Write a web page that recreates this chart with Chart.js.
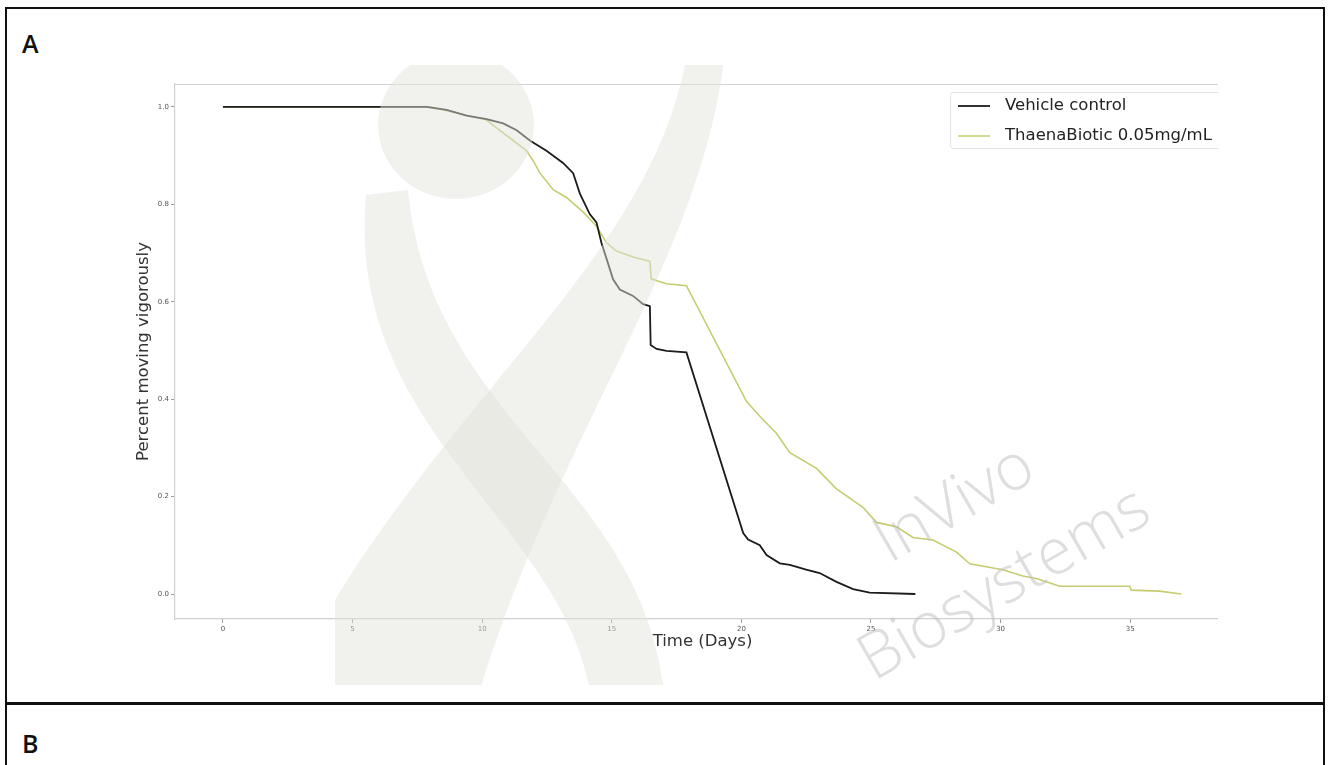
<!DOCTYPE html>
<html>
<head>
<meta charset="utf-8">
<title>Vigorous movement over time</title>
<script src="https://cdn.jsdelivr.net/npm/chart.js@4.4.1/dist/chart.umd.min.js"></script>
<style>
  html, body { margin: 0; padding: 0; background: #fff; }
  body { width: 1329px; height: 765px; position: relative; overflow: hidden; font-family: "Open Sans", sans-serif; }
  .frame { position: absolute; left: 5px; top: 7px; width: 1316px; height: 820px; border: 2px solid #111; }
  .divider { position: absolute; left: 5px; top: 702px; width: 1320px; height: 3px; background: #111; }
  .panel-label { position: absolute; left: 22px; font-size: 25px; font-weight: 600; color: #111; line-height: 1; }
  #plotBox { position: absolute; left: 100px; top: 60px; width: 1118px; height: 625px; overflow: hidden; }
</style>
</head>
<body>
<div class="frame"></div>
<div class="divider"></div>
<div class="panel-label" style="top:31px">A</div>
<div class="panel-label" style="top:731px">B</div>
<div id="plotBox"><canvas id="survivalChart" width="1150" height="625"></canvas></div>

<script>
// fraction of worms still moving vigorously, per day
const vehicleDays   = [0, 7.85, 8.63, 9.40, 10.17, 10.81, 11.33, 11.84, 12.48, 13.12, 13.51, 13.77, 14.15, 14.41, 14.60, 14.80, 15.05, 15.31, 15.82, 16.21, 16.47, 16.50, 16.73, 17.11, 17.88, 20.07, 20.26, 20.71, 20.97, 21.48, 21.87, 22.50, 23.02, 23.67, 24.31, 24.95, 26.71];
const vehicleValues = [1.0, 1.0, 0.994, 0.982, 0.975, 0.966, 0.952, 0.931, 0.910, 0.885, 0.864, 0.822, 0.780, 0.763, 0.721, 0.688, 0.646, 0.625, 0.612, 0.595, 0.591, 0.511, 0.503, 0.499, 0.496, 0.125, 0.112, 0.100, 0.080, 0.063, 0.060, 0.050, 0.043, 0.025, 0.010, 0.003, 0.0];

const thaenaDays   = [0, 8.0, 9.40, 10.17, 10.68, 11.20, 11.71, 11.97, 12.23, 12.74, 13.25, 13.90, 14.41, 14.80, 15.18, 15.82, 16.47, 16.52, 17.11, 17.88, 20.20, 20.71, 21.35, 21.87, 22.90, 23.67, 24.69, 25.21, 25.98, 26.62, 27.39, 28.30, 28.81, 30.09, 30.86, 31.38, 32.28, 34.98, 35.04, 36.13, 36.97];
const thaenaValues = [1.0, 1.0, 0.983, 0.973, 0.952, 0.931, 0.910, 0.889, 0.864, 0.830, 0.814, 0.784, 0.755, 0.721, 0.704, 0.692, 0.683, 0.647, 0.637, 0.633, 0.395, 0.365, 0.330, 0.290, 0.258, 0.216, 0.178, 0.147, 0.138, 0.116, 0.111, 0.086, 0.062, 0.050, 0.037, 0.032, 0.016, 0.016, 0.008, 0.006, 0.0];

const seriesLabels = ['Vehicle control', 'ThaenaBiotic 0.05mg/mL'];
const seriesColors = ['#1b1b1b', '#c6cc70'];
const xTicks = [0, 5, 10, 15, 20, 25, 30, 35];
const yTicks = [0.0, 0.2, 0.4, 0.6, 0.8, 1.0];

const toPoints = (xs, ys) => xs.map((x, i) => ({ x: x, y: ys[i] }));

// canvas sits at page offset 100,60 -> logo drawn in page space
const OX = 100, OY = 60;

const watermarkPlugin = {
    id: 'watermark',
    afterDatasetsDraw(chart) {
        const ctx = chart.ctx;
        ctx.save();
        ctx.beginPath();
        ctx.rect(0, 65 - OY, chart.width, 620);
        ctx.clip();
        ctx.translate(-OX, -OY);
        ctx.fillStyle = 'rgba(226, 226, 220, 0.48)';

        // head
        ctx.beginPath();
        ctx.ellipse(456, 125, 78, 74, 0, 0, Math.PI * 2);
        ctx.fill();

        // ribbon from upper right down to lower left
        ctx.beginPath();
        ctx.moveTo(686, 60);
        ctx.bezierCurveTo(650, 250, 470, 380, 335, 600);
        ctx.lineTo(335, 690);
        ctx.lineTo(480, 690);
        ctx.bezierCurveTo(560, 430, 700, 260, 724, 60);
        ctx.closePath();
        ctx.fill();

        // ribbon from the left down to lower right
        ctx.beginPath();
        ctx.moveTo(366, 195);
        ctx.bezierCurveTo(345, 430, 560, 520, 590, 690);
        ctx.lineTo(664, 690);
        ctx.bezierCurveTo(640, 480, 430, 420, 408, 190);
        ctx.closePath();
        ctx.fill();
        ctx.restore();

        // company name
        ['InVivo', 'Biosystems'].forEach((word, i) => {
            ctx.save();
            ctx.fillStyle = 'rgba(190, 190, 190, 0.5)';
            ctx.font = '300 64px "Open Sans", sans-serif';
            ctx.textAlign = 'center';
            ctx.textBaseline = 'middle';
            ctx.translate((i === 0 ? 955 : 1005) - OX, (i === 0 ? 505 : 585) - OY);
            ctx.rotate(-30 * Math.PI / 180);
            ctx.fillText(word, 0, 0);
            ctx.restore();
        });
    }
};

// top spine + legend box in the upper right of the axes
const framePlugin = {
    id: 'frame',
    beforeDatasetsDraw(chart) {
        const { ctx, chartArea } = chart;
        ctx.save();
        ctx.strokeStyle = '#d4d4d4';
        ctx.lineWidth = 1.2;
        ctx.beginPath();
        ctx.moveTo(chartArea.left, chartArea.top + 0.5);
        ctx.lineTo(chartArea.right, chartArea.top + 0.5);
        ctx.stroke();
        ctx.restore();
    },
    afterDatasetsDraw(chart) {
        const { ctx, chartArea } = chart;
        const boxRight = chartArea.right - 7;
        const boxLeft = boxRight - 273;
        const boxTop = chartArea.top + 8;
        ctx.save();
        ctx.fillStyle = 'rgba(255,255,255,0.85)';
        ctx.strokeStyle = '#e2e2e2';
        ctx.lineWidth = 1;
        ctx.beginPath();
        ctx.roundRect(boxLeft + 0.5, boxTop + 0.5, boxRight - boxLeft, 56, 3);
        ctx.fill();
        ctx.stroke();
        ctx.font = '16.5px "DejaVu Sans", sans-serif';
        ctx.textBaseline = 'middle';
        chart.data.datasets.forEach((ds, i) => {
            const y = boxTop + 14 + i * 30;
            ctx.strokeStyle = ds.borderColor;
            ctx.lineWidth = i === 0 ? 1.8 : 1.5;
            ctx.beginPath();
            ctx.moveTo(boxLeft + 8, y);
            ctx.lineTo(boxLeft + 40, y);
            ctx.stroke();
            ctx.fillStyle = '#222';
            ctx.fillText(ds.label, boxLeft + 55, y);
        });
        ctx.restore();
    }
};

const tickFont = { family: '"DejaVu Sans", sans-serif', size: 7 };
const titleFont = { family: '"DejaVu Sans", sans-serif', size: 16.5 };

new Chart(document.getElementById('survivalChart'), {
    type: 'line',
    data: {
        datasets: [
            {
                label: seriesLabels[0],
                data: toPoints(vehicleDays, vehicleValues),
                borderColor: seriesColors[0],
                borderWidth: 1.8,
                pointRadius: 0,
                tension: 0
            },
            {
                label: seriesLabels[1],
                data: toPoints(thaenaDays, thaenaValues),
                borderColor: seriesColors[1],
                borderWidth: 1.6,
                pointRadius: 0,
                tension: 0
            }
        ]
    },
    options: {
        responsive: false,
        animation: false,
        devicePixelRatio: 1,
        layout: { padding: { top: 24, right: 20, bottom: 0, left: 0 } },
        plugins: {
            legend: { display: false },
            tooltip: { enabled: false }
        },
        scales: {
            x: {
                type: 'linear',
                min: -1.85,
                max: 38.85,
                afterFit: function(scale) { scale.height = 66; },
                afterBuildTicks: function(scale) { scale.ticks = xTicks.map(v => ({ value: v })); },
                ticks: {
                    font: tickFont,
                    color: '#555',
                    padding: 2,
                    maxRotation: 0,
                    callback: v => String(v)
                },
                grid: { drawOnChartArea: false, drawTicks: true, tickLength: 4, color: '#9a9a9a' },
                border: { color: '#d0d0d0', width: 1.2 },
                title: {
                    display: true,
                    text: 'Time (Days)',
                    font: titleFont,
                    color: '#333',
                    padding: { top: 0, bottom: 33 }
                }
            },
            y: {
                min: -0.0513,
                max: 1.047,
                afterFit: function(scale) { scale.width = 75; },
                afterBuildTicks: function(scale) { scale.ticks = yTicks.map(v => ({ value: v })); },
                ticks: {
                    font: tickFont,
                    color: '#555',
                    padding: 2,
                    callback: v => v.toFixed(1)
                },
                grid: { drawOnChartArea: false, drawTicks: true, tickLength: 4, color: '#9a9a9a' },
                border: { color: '#d0d0d0', width: 1.2 },
                title: {
                    display: true,
                    text: 'Percent moving vigorously',
                    font: titleFont,
                    color: '#333',
                    padding: { top: 34, bottom: 0 }
                }
            }
        }
    },
    plugins: [framePlugin, watermarkPlugin]
});
</script>
</body>
</html>
